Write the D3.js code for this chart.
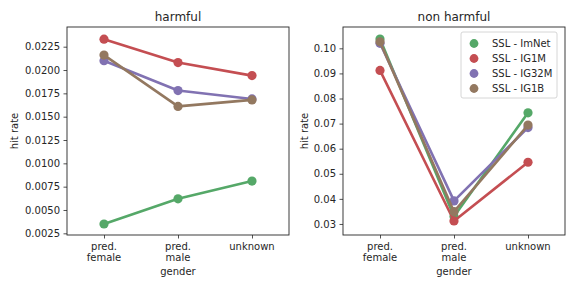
<!DOCTYPE html>
<html><head><meta charset="utf-8">
<script src="https://cdn.jsdelivr.net/npm/d3@7"></script>
<style>body{margin:0;background:#fff}svg{display:block}text{font-family:"DejaVu Sans",sans-serif;fill:#262626}</style>
</head><body><svg id="c" width="576" height="288"></svg>
<script>
const categories = ["pred.\nfemale", "pred.\nmale", "unknown"];
const seriesNames = ["SSL - ImNet", "SSL - IG1M", "SSL - IG32M", "SSL - IG1B"];
const colors = ["#55A868", "#C44E52", "#8172B2", "#937860"];
const harmful = [
  [0.0035, 0.0062, 0.0081],
  [0.0233, 0.0208, 0.0194],
  [0.0210, 0.0178, 0.0169],
  [0.0216, 0.0161, 0.0168]
];
const nonHarmful = [
  [0.1037, 0.0330, 0.0743],
  [0.0912, 0.0312, 0.0546],
  [0.1020, 0.0392, 0.0684],
  [0.1026, 0.0349, 0.0694]
];
const harmfulTicks = [0.0025, 0.0050, 0.0075, 0.0100, 0.0125, 0.0150, 0.0175, 0.0200, 0.0225];
const nonHarmfulTicks = [0.03, 0.04, 0.05, 0.06, 0.07, 0.08, 0.09, 0.10];

const svg = d3.select("#c");
const plotTop = 27, plotBottom = 235;

function panel(x0, x1, data, ticks, domain, fmt, title, legend, labelOff) {
  const g = svg.append("g");
  const x = d3.scaleLinear().domain([-0.5, 2.5]).range([x0, x1]);
  const y = d3.scaleLinear().domain(domain).range([plotBottom, plotTop]);
  const ya = g.append("g").attr("transform", `translate(${x0},0)`)
    .call(d3.axisLeft(y).tickValues(ticks).tickFormat(d3.format(fmt)).tickSize(3.5).tickPadding(3.5));
  ya.select(".domain").remove();
  ya.selectAll("line").attr("stroke", "#262626").attr("stroke-width", 0.8);
  ya.selectAll("text").style("font-size", "10px").attr("fill", "#262626");
  const xa = g.append("g").attr("transform", `translate(0,${plotBottom})`)
    .call(d3.axisBottom(x).tickValues([0, 1, 2]).tickFormat("").tickSize(3.5));
  xa.select(".domain").remove();
  xa.selectAll("line").attr("stroke", "#262626").attr("stroke-width", 0.8);
  categories.forEach((c, i) => {
    const lines = c.split("\n");
    const t = g.append("text").attr("x", x(i)).attr("y", plotBottom + 15).attr("text-anchor", "middle").style("font-size", "10px");
    lines.forEach((l, j) => t.append("tspan").attr("x", x(i)).attr("dy", j === 0 ? 0 : 11).text(l));
  });
  g.append("rect").attr("x", x0).attr("y", plotTop).attr("width", x1 - x0).attr("height", plotBottom - plotTop)
    .attr("fill", "none").attr("stroke", "#262626").attr("stroke-width", 0.9);
  g.append("text").attr("x", (x0 + x1) / 2).attr("y", plotTop - 6).attr("text-anchor", "middle").style("font-size", "12px").text(title);
  g.append("text").attr("x", (x0 + x1) / 2).attr("y", 275).attr("text-anchor", "middle").style("font-size", "10px").text("gender");
  g.append("text").attr("transform", `translate(${x0 - labelOff},${(plotTop + plotBottom) / 2}) rotate(-90)`).attr("text-anchor", "middle").style("font-size", "10px").text("hit rate");
  const line = d3.line().x((d, i) => x(i)).y(d => y(d));
  data.forEach((s, k) => {
    g.append("path").attr("d", line(s)).attr("fill", "none").attr("stroke", colors[k]).attr("stroke-width", 2.6).attr("stroke-linejoin", "round");
    g.selectAll(null).data(s).enter().append("circle")
      .attr("cx", (d, i) => x(i)).attr("cy", d => y(d)).attr("r", 4.6).attr("fill", colors[k]);
  });
  if (legend) {
    const lx = 461, ly = 32;
    g.append("rect").attr("x", lx).attr("y", ly).attr("width", 96).attr("height", 66).attr("rx", 2)
      .attr("fill", "#fff").attr("fill-opacity", 0.8).attr("stroke", "#cccccc").attr("stroke-width", 0.8);
    seriesNames.forEach((n, k) => {
      const cy = ly + 11.5 + k * 15;
      g.append("circle").attr("cx", lx + 13).attr("cy", cy).attr("r", 4.4).attr("fill", colors[k]);
      g.append("text").attr("x", lx + 31).attr("y", cy + 3.6).style("font-size", "10px").text(n);
    });
  }
}

panel(67, 289, harmful, harmfulTicks, [0.00232, 0.02461], ".4f", "harmful", false, 49.5);
panel(343, 565, nonHarmful, nonHarmfulTicks, [0.0256, 0.1085], ".2f", "non harmful", true, 35.5);
</script></body></html>
